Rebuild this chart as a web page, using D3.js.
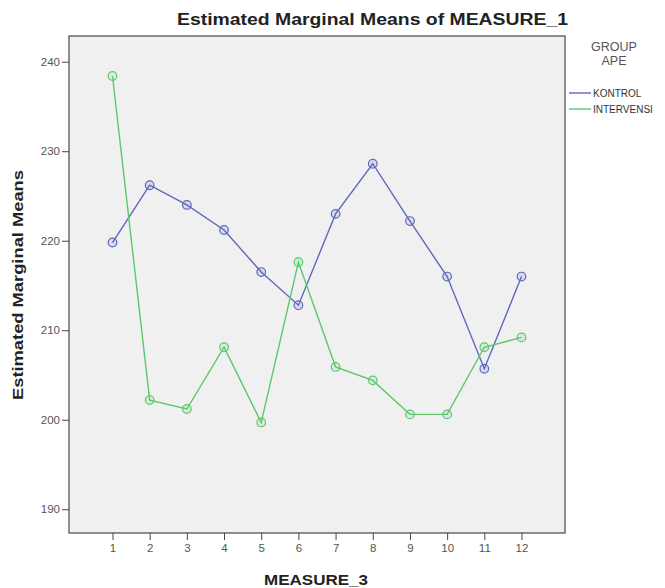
<!DOCTYPE html>
<html><head><meta charset="utf-8">
<script src="https://cdn.jsdelivr.net/npm/d3@7"></script>
<style>body{margin:0;background:#fff;} text{font-family:Arial,"Liberation Sans",sans-serif;}</style>
</head><body><svg id="c" width="665" height="588"></svg>
<script>
const categories = ["1","2","3","4","5","6","7","8","9","10","11","12"];
const kontrol =    [219.8,226.2,224.0,221.2,216.5,212.8,223.0,228.6,222.2,216.0,205.7,216.0];
const intervensi = [238.4,202.2,201.2,208.1,199.7,217.6,205.9,204.4,200.6,200.6,208.1,209.2];
const yTicks = [190,200,210,220,230,240];
const seriesNames = ["KONTROL","INTERVENSI"];
const seriesColors = ["#5f68bf","#5cc86a"];

const svg = d3.select("#c");
const L=69,R=565,T=36,B=533;
const x = d3.scalePoint().domain(categories).range([L,R]).padding(1.17);
const y = d3.scaleLinear().domain([187.35,242.87]).range([B,T]);

svg.append("rect").attr("x",L).attr("y",T).attr("width",R-L).attr("height",B-T)
  .attr("fill","#f0f0f0").attr("stroke","#555").attr("stroke-width",1.3);

const yAx = svg.append("g").attr("transform",`translate(${L},0)`)
  .call(d3.axisLeft(y).tickValues(yTicks).tickSize(7).tickPadding(2));
const xAx = svg.append("g").attr("transform",`translate(0,${B})`)
  .call(d3.axisBottom(x).tickSize(7).tickPadding(4));
[yAx,xAx].forEach(g=>{
  g.select(".domain").remove();
  g.selectAll("line").attr("stroke","#444");
  g.selectAll("text").attr("fill","#555").style("font-size","11.5px").style("font-family","Arial, sans-serif");
});

const data=[kontrol,intervensi];
const line=d3.line().x((d,i)=>x(categories[i])).y(d=>y(d));
data.forEach((s,k)=>{
  svg.append("path").datum(s).attr("d",line).attr("fill","none")
    .attr("stroke",seriesColors[k]).attr("stroke-width",1.4);
  svg.append("g").selectAll("circle").data(s).join("circle")
    .attr("cx",(d,i)=>x(categories[i])).attr("cy",d=>y(d)).attr("r",4.3)
    .attr("fill",seriesColors[k]).attr("fill-opacity",0.15)
    .attr("stroke",seriesColors[k]).attr("stroke-width",1.2);
});

svg.append("text").attr("x",177).attr("y",25)
  .attr("textLength",391).attr("lengthAdjust","spacingAndGlyphs")
  .style("font-size","16px").style("font-weight","bold").attr("fill","#222")
  .text("Estimated Marginal Means of MEASURE_1");
svg.append("text").attr("transform",`translate(23,${285}) rotate(-90)`)
  .attr("x",-115).attr("textLength",230).attr("lengthAdjust","spacingAndGlyphs")
  .style("font-size","15px").style("font-weight","bold").attr("fill","#222")
  .text("Estimated Marginal Means");
svg.append("text").attr("x",264).attr("y",585)
  .attr("textLength",104).attr("lengthAdjust","spacingAndGlyphs")
  .style("font-size","15px").style("font-weight","bold").attr("fill","#222")
  .text("MEASURE_3");

const lg=svg.append("g");
lg.append("text").attr("x",614).attr("y",51).attr("text-anchor","middle")
  .style("font-size","12.5px").attr("fill","#555").text("GROUP");
lg.append("text").attr("x",614).attr("y",65).attr("text-anchor","middle")
  .style("font-size","12.5px").attr("fill","#555").text("APE");
seriesNames.forEach((n,k)=>{
  const yy=93+k*16;
  lg.append("line").attr("x1",569).attr("x2",591).attr("y1",yy).attr("y2",yy)
    .attr("stroke",seriesColors[k]).attr("stroke-width",1.4);
  lg.append("text").attr("x",593).attr("y",yy+3.5).style("font-size","10px")
    .attr("fill","#333").text(n);
});
</script></body></html>
